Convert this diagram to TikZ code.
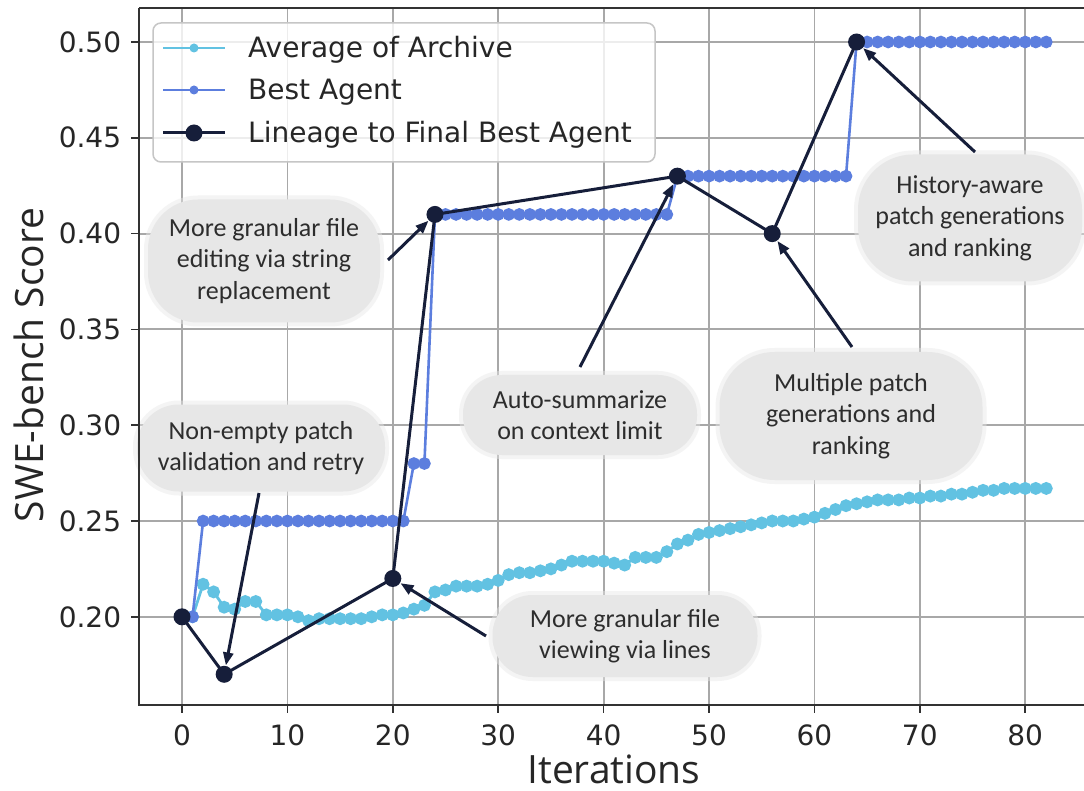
\documentclass[tikz,border=0pt]{standalone}
\usepackage{fontspec}
\setmainfont{DejaVu Sans}
\newfontfamily\labfont{Open Sans}
\newfontfamily\annfont{Carlito}
\usetikzlibrary{arrows.meta}
\definecolor{avgcol}{RGB}{98,194,226}
\definecolor{bestcol}{RGB}{92,126,222}
\definecolor{navy}{RGB}{22,30,58}
\definecolor{gridcol}{RGB}{168,168,168}
\definecolor{bubblecol}{RGB}{231,231,231}
\definecolor{anntext}{RGB}{45,45,45}
\definecolor{axcol}{RGB}{50,50,50}
\definecolor{tickcol}{RGB}{38,38,38}
\begin{document}
\begin{tikzpicture}[x=1pt,y=-1pt,
  gridline/.style={draw=gridcol, line width=1.8pt},
  spine/.style={draw=axcol, line width=2.6pt},
  tickmark/.style={draw=axcol, line width=1.6pt},
  ticklabel/.style={font=\fontsize{28}{32}\selectfont, text=tickcol, inner sep=0pt},
  axlabel/.style={font=\labfont\fontsize{39}{44}\selectfont, text=tickcol, inner sep=0pt},
  bubble/.style={fill=bubblecol, draw=bubblecol, draw opacity=0.45, line width=8pt,
    font=\annfont\fontsize{26}{31.5}\selectfont, text=anntext, align=center, inner sep=0pt},
  ann/.style={draw=navy, line width=3pt, -{Triangle[length=13pt,width=10pt]}, shorten >=9pt},
  avgline/.style={draw=avgcol, line width=2.8pt, mark=*, mark size=5pt, mark options={fill=avgcol, draw=none}},
  bestline/.style={draw=bestcol, line width=2.6pt, mark=*, mark size=5pt, mark options={fill=bestcol, draw=none}},
  linline/.style={draw=navy, line width=3pt},
  ldot/.style={circle, fill=navy, inner sep=0pt, minimum size=17pt},
  legtext/.style={font=\fontsize{28}{32}\selectfont, text=tickcol, inner sep=0pt, anchor=base west}
]
\useasboundingbox (0,0) rectangle (1084,791);
\fill[white] (0,0) rectangle (1084,791);

% ---------- data scope ----------
\begin{scope}[shift={(182,1000)}, x=10.54pt, y=1916pt]
  % grid
  \foreach \i in {0,10,...,80} \draw[gridline] (\i,0.1540) -- (\i,0.5177);
  \foreach \v in {0.20,0.25,0.30,0.35,0.40,0.45,0.50} \draw[gridline] (-4.05,\v) -- (86.2,\v);
\end{scope}

% ---------- annotation bubbles ----------
\node[bubble, minimum width=232pt, minimum height=123pt, rounded corners=50pt] (bA) at (264,261)
  {More granular file\\editing via string\\replacement};
\node[bubble, minimum width=248pt, minimum height=87pt, rounded corners=42pt] (bB) at (261,448)
  {Non-empty patch\\validation and retry};
\node[bubble, minimum width=234pt, minimum height=80pt, rounded corners=39pt] (bC) at (580,415)
  {Auto-summarize\\on context limit};
\node[bubble, minimum width=265pt, minimum height=82pt, rounded corners=40pt] (bD) at (625,636)
  {More granular file\\viewing via lines};
\node[bubble, minimum width=263pt, minimum height=128pt, rounded corners=55pt] (bE) at (851,416)
  {Multiple patch\\generations and\\ranking};
\node[bubble, minimum width=224pt, minimum height=127pt, rounded corners=55pt] (bF) at (970,218)
  {History-aware\\patch generations\\and ranking};

\begin{scope}[shift={(182,1000)}, x=10.54pt, y=1916pt]
  % average of archive
  \draw[avgline] plot coordinates {(0,.200)(1,.200)(2,.217)(3,.213)(4,.205)(5,.204)(6,.208)(7,.208)(8,.201)(9,.201)(10,.201)(11,.200)(12,.198)(13,.199)(14,.199)(15,.199)(16,.199)(17,.199)(18,.200)(19,.201)(20,.201)(21,.202)(22,.204)(23,.206)(24,.213)(25,.214)(26,.216)(27,.216)(28,.216)(29,.217)(30,.219)(31,.222)(32,.223)(33,.223)(34,.224)(35,.225)(36,.227)(37,.229)(38,.229)(39,.229)(40,.229)(41,.228)(42,.227)(43,.231)(44,.231)(45,.231)(46,.234)(47,.238)(48,.240)(49,.243)(50,.244)(51,.245)(52,.246)(53,.247)(54,.248)(55,.249)(56,.250)(57,.250)(58,.250)(59,.251)(60,.252)(61,.254)(62,.256)(63,.258)(64,.259)(65,.260)(66,.261)(67,.261)(68,.261)(69,.262)(70,.262)(71,.263)(72,.263)(73,.264)(74,.264)(75,.265)(76,.266)(77,.266)(78,.267)(79,.267)(80,.267)(81,.267)(82,.267)};
  % best agent
  \draw[bestline] plot coordinates {(0,.20)(1,.20)(2,.25)(3,.25)(4,.25)(5,.25)(6,.25)(7,.25)(8,.25)(9,.25)(10,.25)(11,.25)(12,.25)(13,.25)(14,.25)(15,.25)(16,.25)(17,.25)(18,.25)(19,.25)(20,.25)(21,.25)(22,.28)(23,.28)(24,.41)(25,.41)(26,.41)(27,.41)(28,.41)(29,.41)(30,.41)(31,.41)(32,.41)(33,.41)(34,.41)(35,.41)(36,.41)(37,.41)(38,.41)(39,.41)(40,.41)(41,.41)(42,.41)(43,.41)(44,.41)(45,.41)(46,.41)(47,.43)(48,.43)(49,.43)(50,.43)(51,.43)(52,.43)(53,.43)(54,.43)(55,.43)(56,.43)(57,.43)(58,.43)(59,.43)(60,.43)(61,.43)(62,.43)(63,.43)(64,.50)(65,.50)(66,.50)(67,.50)(68,.50)(69,.50)(70,.50)(71,.50)(72,.50)(73,.50)(74,.50)(75,.50)(76,.50)(77,.50)(78,.50)(79,.50)(80,.50)(81,.50)(82,.50)};
  % lineage
  \coordinate (P0) at (0,0.20);
  \coordinate (P4) at (4,0.17);
  \coordinate (P20) at (20,0.22);
  \coordinate (P24) at (24,0.41);
  \coordinate (P47) at (47,0.43);
  \coordinate (P56) at (56,0.40);
  \coordinate (P64) at (64,0.50);
  \draw[linline] (P0) -- (P4) -- (P20) -- (P24) -- (P47) -- (P56) -- (P64);
  \node[ldot] (D0) at (P0) {};
  \node[ldot] (D4) at (P4) {};
  \node[ldot] (D20) at (P20) {};
  \node[ldot] (D24) at (P24) {};
  \node[ldot] (D47) at (P47) {};
  \node[ldot] (D56) at (P56) {};
  \node[ldot] (D64) at (P64) {};
\end{scope}

% ---------- annotation arrows ----------
\coordinate (SA) at (388,260);
\coordinate (SB) at (259,493);
\coordinate (SC) at (580,367);
\coordinate (SD) at (486,636);
\coordinate (SE) at (852,347);
\coordinate (SF) at (975,152);
\draw[ann] (SA) -- (P24);
\draw[ann] (SB) -- (P4);
\draw[ann] (SC) -- (P47);
\draw[ann] (SD) -- (P20);
\draw[ann] (SE) -- (P56);
\draw[ann] (SF) -- (P64);

% ---------- axes ----------
\draw[spine] (139,8) -- (1090,8);
\draw[spine] (139,8) -- (139,705) -- (1090,705);
\begin{scope}[shift={(182,1000)}, x=10.54pt, y=1916pt]
  \foreach \i in {0,10,...,80} {
    \draw[tickmark] (\i,0.1540) -- ++(0,-8pt);
    \node[ticklabel, anchor=north] (xt\i) at ([yshift=-20pt]\i,0.1540) {\i};
  }
  \foreach \v/\t in {0.20/0.20,0.25/0.25,0.30/0.30,0.35/0.35,0.40/0.40,0.45/0.45,0.50/0.50} {
    \draw[tickmark] (-4.05,\v) -- ++(-8pt,0);
    \node[ticklabel, anchor=east] (yt\t) at ([xshift=-18pt]-4.05,\v) {\t};
  }
\end{scope}
\node[axlabel, anchor=base] (xlab) at (614,783) {Iterations};
\node[axlabel, anchor=base, rotate=90] (ylab) at (43,365) {SWE-bench Score};

% ---------- legend ----------
\node[draw=gray!45, fill=white, fill opacity=0.8, rounded corners=8pt, line width=1.5pt,
  minimum width=502pt, minimum height=139pt, inner sep=0pt] (leg) at (404,92.5) {};
\coordinate (l1a) at (163,48); \coordinate (l1b) at (225,48);
\coordinate (l2a) at (163,90); \coordinate (l2b) at (225,90);
\coordinate (l3a) at (163,133); \coordinate (l3b) at (225,133);
\draw[draw=avgcol, line width=2.6pt] (l1a) -- (l1b);
\fill[avgcol] (194,48) circle (4.5pt);
\draw[draw=bestcol, line width=2.6pt] (l2a) -- (l2b);
\fill[bestcol] (194,90) circle (4.5pt);
\draw[draw=navy, line width=3pt] (l3a) -- (l3b);
\node[ldot] (legdot) at (194,133) {};
\node[legtext] (lt1) at (248,58) {Average of Archive};
\node[legtext] (lt2) at (248,100) {Best Agent};
\node[legtext] (lt3) at (248,143) {Lineage to Final Best Agent};
\end{tikzpicture}
\end{document}
